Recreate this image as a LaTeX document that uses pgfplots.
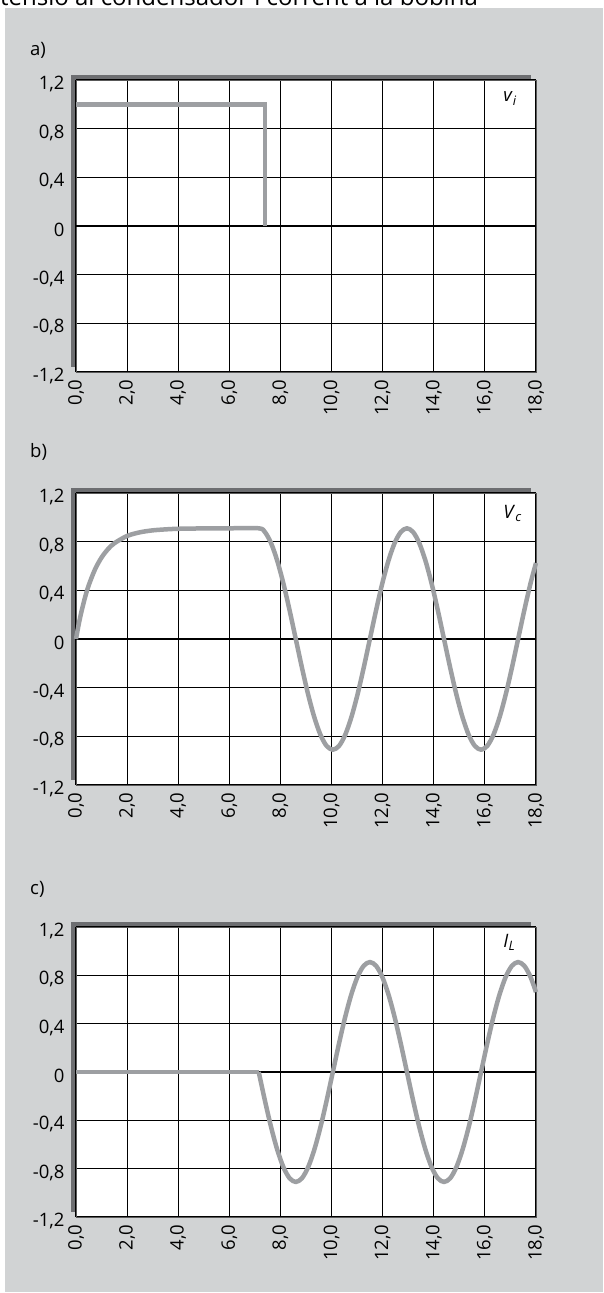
\documentclass[border=0pt]{standalone}
\usepackage{fontspec}
\setmainfont{Open Sans}
\usepackage{pgfplots}
\pgfplotsset{compat=1.18}
\definecolor{panel}{RGB}{209,211,212}
\definecolor{shadow}{RGB}{109,110,113}
\definecolor{curvegray}{RGB}{157,159,162}
\newcommand{\lab}{\fontsize{18.5}{21}\selectfont}
\pgfplotsset{
  myaxis/.style={
    scale only axis, width=460pt,
    xmin=0, xmax=18, ymin=-1.2, ymax=1.2,
    xtick={0,2,4,6,8,10,12,14,16,18},
    xticklabels={{0,0},{2,0},{4,0},{6,0},{8,0},{10,0},{12,0},{14,0},{16,0},{18,0}},
    ytick={-1.2,-0.8,-0.4,0,0.4,0.8,1.2},
    yticklabels={{-1,2},{-0,8},{-0,4},{0},{0,4},{0,8},{1,2}},
    grid=major,
    major grid style={black, line width=1.2pt},
    major tick length=0pt,
    axis line style={draw=black!65, line width=0.8pt},
    axis background/.style={fill=white},
    tick label style={font=\lab},
    xticklabel style={rotate=90, anchor=east},
    xticklabel shift=4pt,
    yticklabel style={anchor=east, yshift=-4pt},
    yticklabel shift=8pt,
    clip=false,
    anchor=north west,
  },
  curv/.style={curvegray, line width=4.5pt, line join=round},
}
\begin{document}
\begin{tikzpicture}
\useasboundingbox (0pt,0pt) rectangle (603pt,-1293pt);
\clip (0pt,0pt) rectangle (603pt,-1293pt);
\fill[panel] (5pt,-8pt) rectangle (603pt,-1292pt);
\node[anchor=base west, inner sep=0pt, font=\fontsize{24}{26}\selectfont] at (0pt,-5pt) {tensió al condensador i corrent a la bobina};

% ---------- a)
\node[anchor=west, inner sep=0pt, font=\lab] at (30pt,-50pt) {a)};
\fill[shadow] (71pt,-75pt) rectangle (531pt,-367pt);
\begin{axis}[myaxis, height=292pt, at={(76pt,-80pt)}]
\addplot[black, line width=2pt] coordinates {(0,0) (18,0)};
\addplot[curv, line join=miter] coordinates {(0,1.0) (7.4,1.0) (7.4,0.0)};
\node[anchor=base west, inner sep=0pt, font=\lab] at (axis cs:16.72,1.02) {\textit{v}\textsubscript{\textit{i}}};
\end{axis}

% ---------- b)
\node[anchor=west, inner sep=0pt, font=\lab] at (30pt,-452pt) {b)};
\fill[shadow] (71pt,-488pt) rectangle (531pt,-780pt);
\begin{axis}[myaxis, height=292pt, at={(76pt,-493pt)}]
\addplot[black, line width=2pt] coordinates {(0,0) (18,0)};
\addplot[curv, smooth] coordinates {
(0,0) (0.1,0.114) (0.2,0.213) (0.35,0.339) (0.5,0.443) (0.75,0.575) (1.0,0.670)
(1.25,0.738) (1.5,0.787) (2.0,0.847) (2.5,0.877) (3.0,0.893) (3.5,0.901) (4.0,0.906)
(5.0,0.909) (6.0,0.910) (7.15,0.910)
(7.392,0.879) (7.633,0.788) (7.875,0.643) (8.117,0.455) (8.358,0.236) (8.600,0)
(8.842,-0.236) (9.083,-0.455) (9.325,-0.643) (9.567,-0.788) (9.808,-0.879) (10.050,-0.910)
(10.292,-0.879) (10.533,-0.788) (10.775,-0.643) (11.017,-0.455) (11.258,-0.236) (11.500,0)
(11.742,0.236) (11.983,0.455) (12.225,0.643) (12.467,0.788) (12.708,0.879) (12.950,0.910)
(13.192,0.879) (13.433,0.788) (13.675,0.643) (13.917,0.455) (14.158,0.236) (14.400,0)
(14.642,-0.236) (14.883,-0.455) (15.125,-0.643) (15.367,-0.788) (15.608,-0.879) (15.850,-0.910)
(16.092,-0.879) (16.333,-0.788) (16.575,-0.643) (16.817,-0.455) (17.058,-0.236) (17.300,0)
(17.542,0.236) (17.783,0.455) (18.0,0.625)};
\node[anchor=base west, inner sep=0pt, font=\lab] at (axis cs:16.72,0.99) {\textit{V}\textsubscript{\textit{c}}};
\end{axis}

% ---------- c)
\node[anchor=west, inner sep=0pt, font=\lab] at (30pt,-889pt) {c)};
\fill[shadow] (71pt,-922pt) rectangle (531pt,-1212pt);
\begin{axis}[myaxis, height=290pt, at={(76pt,-927pt)}]
\addplot[black, line width=2pt] coordinates {(0,0) (18,0)};
\addplot[curv] coordinates {(0,0) (7.15,0)};
\addplot[curv, smooth] coordinates {
(7.15,0) (7.392,-0.236) (7.633,-0.455) (7.875,-0.643) (8.117,-0.788) (8.358,-0.879) (8.600,-0.910)
(8.842,-0.879) (9.083,-0.788) (9.325,-0.643) (9.567,-0.455) (9.808,-0.236) (10.050,0)
(10.292,0.236) (10.533,0.455) (10.775,0.643) (11.017,0.788) (11.258,0.879) (11.500,0.910)
(11.742,0.879) (11.983,0.788) (12.225,0.643) (12.467,0.455) (12.708,0.236) (12.950,0)
(13.192,-0.236) (13.433,-0.455) (13.675,-0.643) (13.917,-0.788) (14.158,-0.879) (14.400,-0.910)
(14.642,-0.879) (14.883,-0.788) (15.125,-0.643) (15.367,-0.455) (15.608,-0.236) (15.850,0)
(16.092,0.236) (16.333,0.455) (16.575,0.643) (16.817,0.788) (17.058,0.879) (17.300,0.910)
(17.542,0.879) (17.783,0.788) (18.0,0.661)};
\node[anchor=base west, inner sep=0pt, font=\lab] at (axis cs:16.72,1.03) {\textit{I}\textsubscript{\textit{L}}};
\end{axis}
\end{tikzpicture}
\end{document}
